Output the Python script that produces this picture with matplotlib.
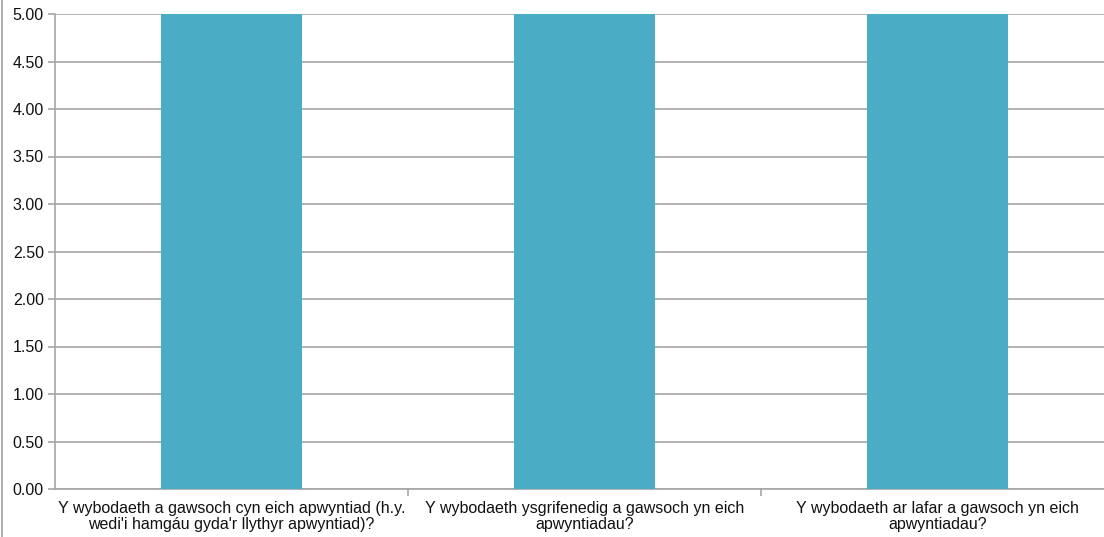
import matplotlib.pyplot as plt
from matplotlib.lines import Line2D

categories = ["Y wybodaeth a gawsoch cyn eich apwyntiad (h.y.\nwedi'i hamgáu gyda'r llythyr apwyntiad)?",
              "Y wybodaeth ysgrifenedig a gawsoch yn eich\napwyntiadau?",
              "Y wybodaeth ar lafar a gawsoch yn eich\napwyntiadau?"]
values = [5.0, 5.0, 5.0]
yticks = [0.0, 0.5, 1.0, 1.5, 2.0, 2.5, 3.0, 3.5, 4.0, 4.5, 5.0]

plt.rcParams['font.family'] = ['Liberation Sans', 'DejaVu Sans']

W, H = 1104, 537
fig = plt.figure(figsize=(W / 100, H / 100), dpi=100)
ax = fig.add_axes([55 / W, (H - 489) / H, 1059 / W, 475 / H])

x = range(len(categories))
ax.bar(x, values, width=0.4, color='#4BACC6', zorder=3)

ax.set_xlim(-0.5, 2.5)
ax.set_ylim(0, 5)
ax.set_yticks(yticks)
ax.set_yticklabels(["%.2f" % v for v in yticks], fontsize=11.5, color='#111111')
ax.yaxis.grid(True, color='#a6a6a6', linewidth=1.2, zorder=0)

ax.set_xticks([0.5, 1.5, 2.5])
ax.set_xticklabels([])
ax.set_xticks(list(x), minor=True)
ax.set_xticklabels(categories, minor=True, fontsize=11.5, color='#111111', linespacing=1.0)
ax.tick_params(axis='x', which='minor', length=0, pad=9)
ax.tick_params(axis='x', which='major', length=5, color='#a6a6a6', width=1.2)
ax.tick_params(axis='y', length=5, color='#a6a6a6', width=1.2, pad=3)

for s in ['top', 'right']:
    ax.spines[s].set_visible(False)
for s in ['left', 'bottom']:
    ax.spines[s].set_color('#a6a6a6')
    ax.spines[s].set_linewidth(1.2)

fig.add_artist(Line2D([2 / W, 2 / W], [0, 1], color='#a0a0a0', linewidth=1.2))

fig.savefig("out.png", dpi=100)
